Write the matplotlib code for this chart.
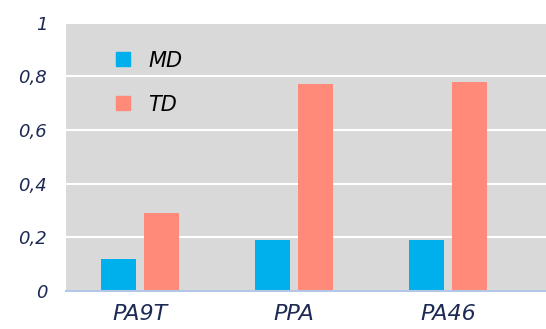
import numpy as np
import matplotlib.pyplot as plt
from matplotlib.lines import Line2D

# данные
materials = ['PA9T', 'PPA', 'PA46']
md = [0.12, 0.19, 0.19]
td = [0.29, 0.77, 0.78]
yticks = [0, 0.2, 0.4, 0.6, 0.8, 1]
ytick_labels = ['0', '0,2', '0,4', '0,6', '0,8', '1']

c_md = '#00b0ec'
c_td = '#ff8a7a'
navy = '#1c2a55'

plt.rcParams['font.family'] = ['DejaVu Sans']

fig = plt.figure(figsize=(5.46, 3.29), dpi=100)
ax = fig.add_axes([0.121, 0.1155, 0.879, 0.816])
ax.set_facecolor('#d9d9d9')

x = np.arange(len(materials))
w = 0.227
off = 0.141
ax.bar(x - off, md, w, color=c_md, zorder=3)
ax.bar(x + off, td, w, color=c_td, zorder=3)

ax.set_ylim(0, 1)
ax.set_xlim(-0.48, 2.636)
ax.set_yticks(yticks)
ax.set_yticklabels(ytick_labels, fontsize=13, style='italic', color=navy)
ax.set_xticks(x)
ax.set_xticklabels(materials, fontsize=16, style='italic', color=navy)
ax.tick_params(axis='both', length=0)
ax.tick_params(axis='y', pad=13.5)
ax.tick_params(axis='x', pad=9.5)

ax.grid(axis='y', color='white', linewidth=1.5, zorder=1)
for s in ['top', 'right', 'left']:
    ax.spines[s].set_visible(False)
ax.spines['bottom'].set_color('#b4c7e7')
ax.spines['bottom'].set_linewidth(1.5)
ax.spines['bottom'].set_zorder(4)

handles = [Line2D([], [], marker='s', linestyle='none', markersize=9.5, color=c_md),
           Line2D([], [], marker='s', linestyle='none', markersize=9.5, color=c_td)]
leg = ax.legend(handles, ['MD', 'TD'], loc='upper left', bbox_to_anchor=(0.063, 0.965),
                frameon=False, prop={'size': 15, 'style': 'italic'},
                labelspacing=1.15, handlelength=0.8, handletextpad=0.8)

fig.savefig('out.png', dpi=100)
